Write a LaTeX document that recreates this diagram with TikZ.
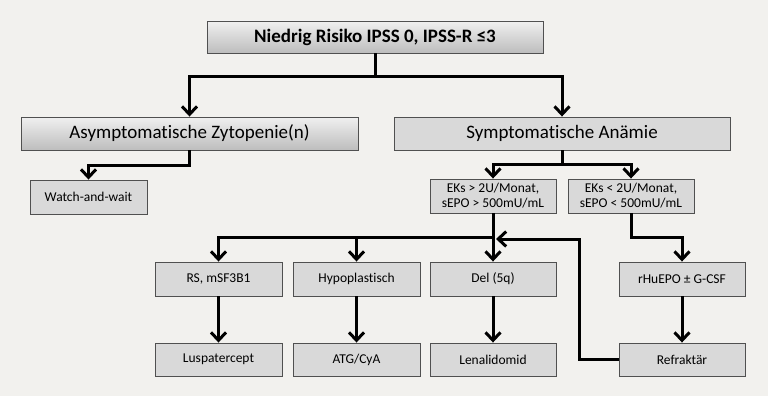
\documentclass[tikz,border=0pt]{standalone}
\usepackage{fontspec}
\setmainfont[Ligatures=NoCommon]{Carlito}
\usetikzlibrary{arrows.meta}
\definecolor{bg}{HTML}{F2F1EE}
\definecolor{boxline}{HTML}{505050}
\definecolor{boxfill}{HTML}{D9D9D9}
\definecolor{gradtop}{HTML}{F0F0F0}
\definecolor{gradbot}{HTML}{BDBDBD}
\begin{document}
\begin{tikzpicture}[x=1pt,y=-1pt,
  bigbox/.style={draw=boxline, line width=0.9pt, top color=gradtop, bottom color=gradbot,
    minimum height=32pt, inner sep=0pt, font=\fontsize{19}{22}\selectfont},
  flatbig/.style={draw=boxline, line width=0.9pt, fill=boxfill,
    minimum height=32pt, inner sep=0pt, font=\fontsize{19}{22}\selectfont},
  smallbox/.style={draw=boxline, line width=0.9pt, fill=boxfill, minimum width=126pt,
    minimum height=34pt, inner sep=0pt, align=center, font=\fontsize{13.5}{15}\selectfont},
  line/.style={line width=3pt, line join=miter},
  conn/.style={line width=3pt, line join=miter, -{Straight Barb[length=8pt,width=15pt]}}]
\fill[bg] (0,0) rectangle (768,396);
\useasboundingbox (0,0) rectangle (768,396);

\node[bigbox, minimum width=336pt, font=\fontsize{19}{22}\selectfont\bfseries] (top) at (375,37) {Niedrig Risiko IPSS 0, IPSS-R ≤3};
\node[bigbox, minimum width=337pt, minimum height=33pt] (asym) at (189.5,133.5) {Asymptomatische Zytopenie(n)};
\node[flatbig, minimum width=336pt, minimum height=33pt] (symp) at (562,133.5) {Symptomatische Anämie};

\node[smallbox, minimum width=117pt] (watch) at (88.5,197) {Watch-and-wait};
\node[smallbox] (eks1) at (493,196) {EKs > 2U/Monat,\\sEPO > 500mU/mL};
\node[smallbox] (eks2) at (631,196) {EKs < 2U/Monat,\\sEPO < 500mU/mL};

\node[smallbox, minimum width=127pt] (rs) at (218.5,279) {RS, mSF3B1};
\node[smallbox, minimum width=127pt] (hypo) at (356.5,279) {Hypoplastisch};
\node[smallbox] (del) at (493,279) {Del (5q)};
\node[smallbox] (rhu) at (682,279) {rHuEPO ± G-CSF};

\node[smallbox, minimum width=127pt, minimum height=33pt] (lusp) at (218.5,359.5) {Luspatercept};
\node[smallbox, minimum width=127pt, minimum height=33pt] (atg) at (356.5,359.5) {ATG/CyA};
\node[smallbox, minimum height=33pt] (lena) at (493,359.5) {Lenalidomid};
\node[smallbox, minimum height=33pt] (refr) at (682,359.5) {Refraktär};

\coordinate (j1) at (375,76);
\coordinate (j2) at (189.5,165);
\coordinate (j3) at (562,164);
\coordinate (j4) at (493,237);
\coordinate (j5) at (631,237);
\coordinate (j6) at (579,239);
\coordinate (j7) at (496,239);

\draw[line] (top.south) -- (j1);
\draw[conn] (j1) -| (asym.north);
\draw[conn] (j1) -| (symp.north);
\draw[conn] (asym.south) -- (j2) -| (watch.north);
\draw[line] (symp.south) -- (j3);
\draw[conn] (j3) -| (eks1.north);
\draw[conn] (j3) -| (eks2.north);
\draw[conn] (eks1.south) -- (del.north);
\draw[conn] (j4) -| (rs.north);
\draw[conn] (j4) -| (hypo.north);
\draw[conn] (eks2.south) -- (j5) -| (rhu.north);
\draw[conn] (rs.south) -- (lusp.north);
\draw[conn] (hypo.south) -- (atg.north);
\draw[conn] (del.south) -- (lena.north);
\draw[conn] (rhu.south) -- (refr.north);
\draw[conn] (refr.west) -| (j6) -- (j7);
\end{tikzpicture}
\end{document}
